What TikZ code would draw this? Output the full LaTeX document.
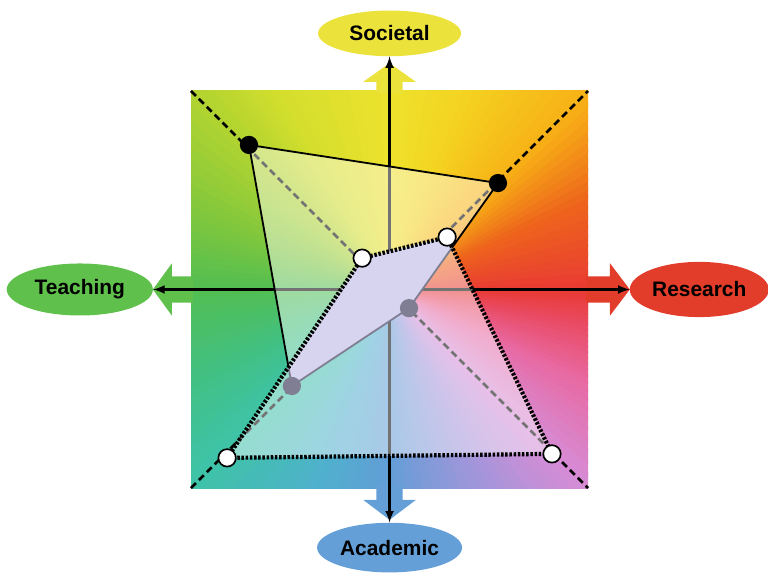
\documentclass[tikz,border=0pt]{standalone}
\usepackage{fontspec}
\setmainfont{Liberation Sans}
\usetikzlibrary{shapes.geometric}

%COULEURS
\definecolor{socyel}{RGB}{236,226,60}
\definecolor{teagre}{RGB}{95,192,75}
\definecolor{resred}{RGB}{226,60,42}
\definecolor{acablu}{RGB}{100,160,215}
\definecolor{lavande}{RGB}{215,212,240}
\definecolor{gris}{RGB}{128,126,146}
\definecolor{w0}{RGB}{232,58,52}
\definecolor{w25}{RGB}{238,100,28}
\definecolor{w45}{RGB}{247,178,22}
\definecolor{w70}{RGB}{244,212,34}
\definecolor{w90}{RGB}{238,226,45}
\definecolor{w120}{RGB}{212,222,45}
\definecolor{w135}{RGB}{178,212,48}
\definecolor{w160}{RGB}{125,198,62}
\definecolor{w180}{RGB}{82,190,82}
\definecolor{w205}{RGB}{66,192,130}
\definecolor{w225}{RGB}{62,195,168}
\definecolor{w250}{RGB}{80,176,205}
\definecolor{w270}{RGB}{98,158,215}
\definecolor{w295}{RGB}{160,150,218}
\definecolor{w315}{RGB}{214,140,214}
\definecolor{w335}{RGB}{232,105,162}
\definecolor{w350}{RGB}{233,75,100}

\tikzset{
	pole/.style={ellipse, inner sep=0pt, font=\fontsize{15}{18}\selectfont\bfseries},
	axe/.style={->, >=latex, line width=1.8pt},
	diag/.style={line width=1.9pt, dash pattern=on 5pt off 3pt},
	contour/.style={line width=1.3pt},
	pointille/.style={line width=3pt, dash pattern=on 1.8pt off 1.2pt},
	creux/.style={draw=black, line width=1.2pt, fill=white}
}

\begin{document}
\begin{tikzpicture}
	%\draw[help lines] (-5,-5) grid (5,5);
	\useasboundingbox (-9.81,-7.14) rectangle (9.53,7.29);
	\coordinate (O) at (0,0);
	%FOND
	\begin{scope}
		\clip (-5,-5) rectangle (5,5);
		\foreach \aa/\ab/\ca/\cb in {0/25/w0/w25, 25/45/w25/w45, 45/70/w45/w70, 70/90/w70/w90, 90/120/w90/w120, 120/135/w120/w135, 135/160/w135/w160, 160/180/w160/w180, 180/205/w180/w205, 205/225/w205/w225, 225/250/w225/w250, 250/270/w250/w270, 270/295/w270/w295, 295/315/w295/w315, 315/335/w315/w335, 335/350/w335/w350, 350/360/w350/w0}
			\foreach \k in {0,...,9}{
				\pgfmathsetmacro\ta{\aa+(\ab-\aa)*\k/10}
				\pgfmathsetmacro\tb{\aa+(\ab-\aa)*(\k+1)/10}
				\pgfmathtruncatemacro\pc{95-10*\k}
				\fill[\ca!\pc!\cb] (O) -- (\ta-0.4:8) -- (\tb+0.4:8) -- cycle;
			}
	\end{scope}
	%FLECHES LARGES
	\foreach \ang/\col/\b/\t in {0/resred/5.55/6.05, 90/socyel/5.23/5.7, 180/teagre/5.48/5.96, 270/acablu/5.3/5.8}
		\fill[\col, rotate=\ang] (4.95,-0.33) -- (\b,-0.33) -- (\b,-0.66) -- (\t,0) -- (\b,0.66) -- (\b,0.33) -- (4.95,0.33) -- cycle;
	%POLES
	\node[pole, fill=socyel, minimum width=3.6cm, minimum height=1.15cm] (soc) at (0,6.45) {Societal};
	\node[pole, fill=acablu, minimum width=3.65cm, minimum height=1.25cm] (aca) at (0,-6.5) {Academic};
	\node[pole, fill=teagre, minimum width=3.68cm, minimum height=1.31cm] (tea) at (-7.8,0) {Teaching};
	\node[pole, fill=resred, minimum width=3.5cm, minimum height=1.39cm] (res) at (7.8,0) {Research};
	%AXES
	\draw[diag] (-5,5) -- (5,-5);
	\draw[diag] (-5,-5) -- (5,5);
	\foreach \p in {soc,aca,tea,res}
		\draw[axe] (O) -- (\p);
	%SOMMETS
	\coordinate (N1) at (-3.54,3.64);
	\coordinate (N2) at (2.73,2.68);
	\coordinate (N3) at (0.49,-0.47);
	\coordinate (N4) at (-2.46,-2.43);
	\coordinate (C1) at (-0.69,0.79);
	\coordinate (C2) at (1.45,1.32);
	\coordinate (C3) at (4.09,-4.14);
	\coordinate (C4) at (-4.09,-4.24);
	%POLYGONES
	\fill[white, opacity=.45, even odd rule] (N1) -- (N2) -- (N3) -- (N4) -- cycle (C1) -- (C2) -- (C3) -- (C4) -- cycle;
	\begin{scope}
		\clip (C1) -- (C2) -- (C3) -- (C4) -- cycle;
		\fill[lavande] (N1) -- (N2) -- (N3) -- (N4) -- cycle;
		\draw[contour, gris] (N1) -- (N2) -- (N3) -- (N4) -- cycle;
	\end{scope}
	\begin{scope}[even odd rule]
		\clip (-5,-5) rectangle (5,5) (C1) -- (C2) -- (C3) -- (C4) -- cycle;
		\draw[contour] (N1) -- (N2) -- (N3) -- (N4) -- cycle;
	\end{scope}
	\fill (N1) circle (0.23);
	\fill (N2) circle (0.23);
	\fill[gris] (N3) circle (0.23);
	\fill[gris] (N4) circle (0.23);
	\draw[pointille] (C1) -- (C2) -- (C3) -- (C4) -- cycle;
	\foreach \c in {C1,C2,C3,C4}
		\draw[creux] (\c) circle (0.22);
\end{tikzpicture}
\end{document}
